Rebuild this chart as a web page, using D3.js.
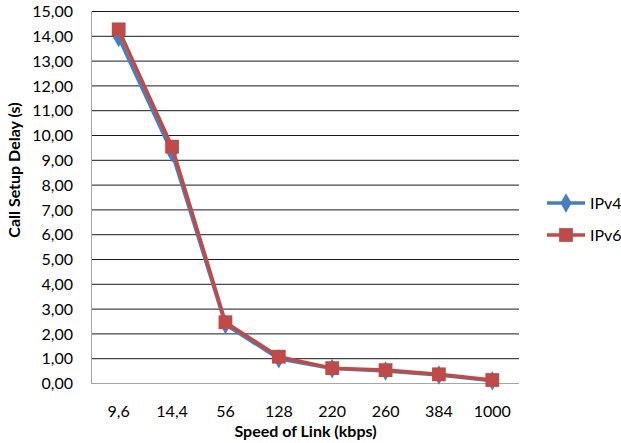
<!DOCTYPE html>
<html>
<head>
<meta charset="utf-8">
<script src="https://cdn.jsdelivr.net/npm/d3@7"></script>
<style>
  html, body { margin: 0; padding: 0; background: #fff; }
  svg { display: block; }
  text { font-family: Lato, "Open Sans", sans-serif; fill: #000; }
</style>
</head>
<body>
<svg id="chart" width="621" height="443"></svg>
<script>
// Link speeds (kbps) and the measured call setup delay (s) per protocol
const categories = ["9,6", "14,4", "56", "128", "220", "260", "384", "1000"];
const ipv4 = [13.95, 9.30, 2.38, 1.00, 0.60, 0.50, 0.34, 0.11];
const ipv6 = [14.28, 9.55, 2.47, 1.08, 0.62, 0.54, 0.37, 0.14];
const yTicks = d3.range(0, 16, 1);

const svg = d3.select("#chart");
const plot = { left: 92, right: 519, top: 11.5, bottom: 383.5 };

const x = d3.scaleBand().domain(categories).range([plot.left, plot.right]);
const y = d3.scaleLinear().domain([0, 15]).range([plot.bottom, plot.top]);
const fmt = v => d3.format(".2f")(v).replace(".", ",");

// horizontal gridlines
svg.append("g")
  .selectAll("line")
  .data(yTicks.filter(v => v > 0))
  .join("line")
  .attr("x1", plot.left).attr("x2", plot.right)
  .attr("y1", d => y(d)).attr("y2", d => y(d))
  .attr("stroke", "#1a1a1a").attr("stroke-width", 1);

// y axis: labels only, with a grey axis line
const yAxis = svg.append("g")
  .attr("transform", `translate(${plot.left},0)`)
  .call(d3.axisLeft(y).tickValues(yTicks).tickFormat(fmt).tickSize(0).tickPadding(19));
yAxis.select(".domain").remove();
yAxis.selectAll("text").style("font-size", "16px").style("font-family", "Lato, sans-serif");

// x axis labels
const xAxis = svg.append("g")
  .attr("transform", `translate(0,${plot.bottom})`)
  .call(d3.axisBottom(x).tickSize(0).tickPadding(22));
xAxis.select(".domain").remove();
xAxis.selectAll("text").style("font-size", "16px").style("font-family", "Lato, sans-serif");

// axis lines
svg.append("line")
  .attr("x1", plot.left - 0.5).attr("x2", plot.left - 0.5)
  .attr("y1", plot.top).attr("y2", plot.bottom)
  .attr("stroke", "#a6a6a6");
svg.append("line")
  .attr("x1", plot.left - 1).attr("x2", plot.right)
  .attr("y1", Math.round(plot.bottom) - 0.5).attr("y2", Math.round(plot.bottom) - 0.5)
  .attr("stroke", "#a6a6a6");

const cx = d => x(d) + x.bandwidth() / 2;
const line = d3.line().x(d => cx(d.cat)).y(d => y(d.v));

const series = [
  { name: "IPv4", values: ipv4, color: "#4a7ebb", marker: d3.symbolDiamond, size: 110 },
  { name: "IPv6", values: ipv6, color: "#be4b48", marker: d3.symbolSquare, size: 190 }
];

series.forEach(s => {
  const pts = categories.map((c, i) => ({ cat: c, v: s.values[i] }));
  const g = svg.append("g");
  g.append("path")
    .datum(pts)
    .attr("d", line)
    .attr("fill", "none")
    .attr("stroke", s.color)
    .attr("stroke-width", 3.5)
    .attr("stroke-linejoin", "round");
  g.selectAll("path.m")
    .data(pts)
    .join("path")
    .attr("class", "m")
    .attr("transform", d => `translate(${cx(d.cat)},${y(d.v)})`)
    .attr("d", d3.symbol().type(s.marker).size(s.size))
    .attr("fill", s.color);
});

// axis titles
svg.append("text")
  .attr("transform", "translate(20,170) rotate(-90)")
  .attr("text-anchor", "middle")
  .style("font-size", "16px").style("font-weight", "bold")
  .text("Call Setup Delay (s)");
svg.append("text")
  .attr("x", (plot.left + plot.right) / 2).attr("y", 437)
  .attr("text-anchor", "middle")
  .style("font-size", "16px").style("font-weight", "bold")
  .text("Speed of Link (kbps)");

// legend
const legend = svg.append("g").attr("transform", "translate(547,203)");
series.forEach((s, i) => {
  const row = legend.append("g").attr("transform", `translate(0,${i * 32})`);
  row.append("line").attr("x1", 0).attr("x2", 38).attr("y1", 0).attr("y2", 0)
    .attr("stroke", s.color).attr("stroke-width", 3.5);
  row.append("path").attr("transform", "translate(19,0)")
    .attr("d", d3.symbol().type(s.marker).size(s.size)).attr("fill", s.color);
  row.append("text").attr("x", 43).attr("y", 0).attr("dy", "0.35em")
    .style("font-size", "16px").text(s.name);
});
</script>
</body>
</html>
